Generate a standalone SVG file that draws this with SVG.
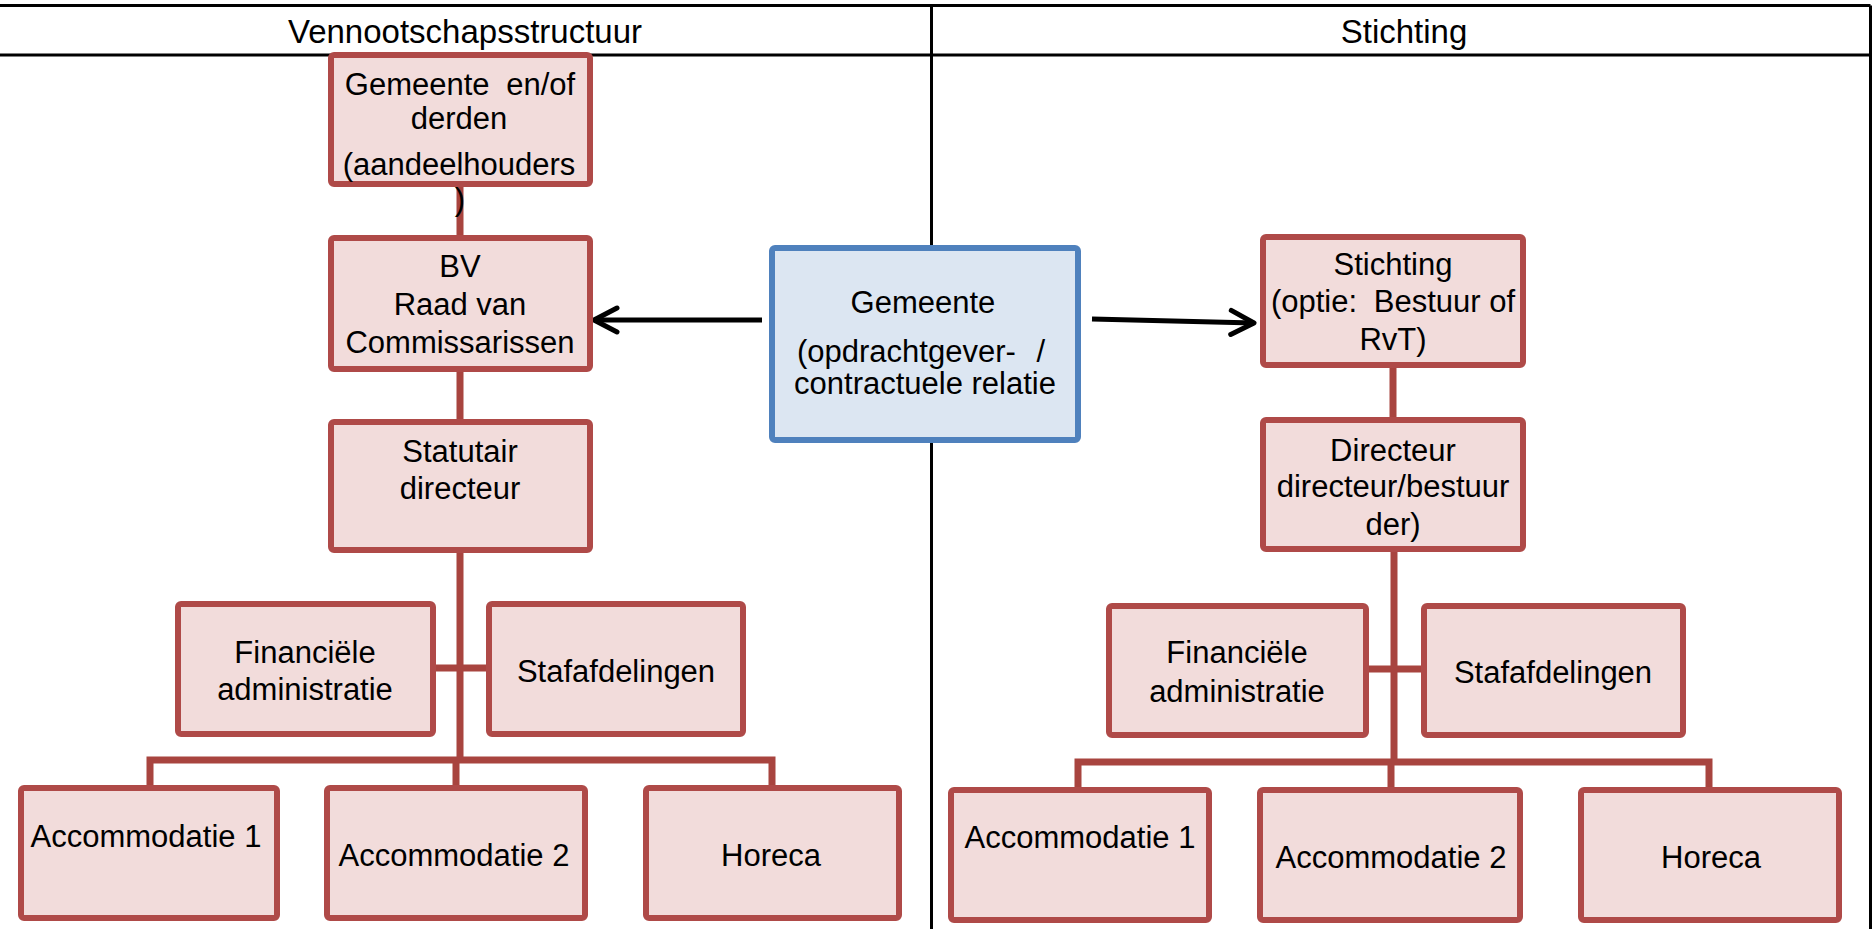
<svg xmlns="http://www.w3.org/2000/svg" width="1876" height="929" viewBox="0 0 1876 929">
<defs>
<style>
.tbl{stroke:#000;stroke-width:3;fill:none}
.box{fill:#F2DCDB;stroke:#AF4A48;stroke-width:6}
.blue{fill:#DCE6F2;stroke:#4F81BD;stroke-width:6}
.con{stroke:#A8443F;stroke-width:7;fill:none}
.arr{stroke:#000;stroke-width:5;fill:none}
.t{font-family:"Liberation Sans",Arial,sans-serif;font-size:31px;fill:#000;text-anchor:middle}
.h{font-family:"Liberation Sans",Arial,sans-serif;font-size:33px;fill:#000;text-anchor:middle}
</style>
<marker id="open" markerUnits="userSpaceOnUse" markerWidth="34" markerHeight="34" viewBox="0 0 34 34" refX="28" refY="17" orient="auto">
<path d="M5,5 L28,17 L5,29" stroke="#000" stroke-width="5" fill="none" stroke-linecap="round" stroke-linejoin="round"/>
</marker>
</defs>
<rect width="1876" height="929" fill="#fff"/>
<g id="table">
<path class="tbl" d="M0,5.5 H1870.5 M0,55 H1870.5 M931.5,5.5 V929 M1870.5,5.5 V929"/>
<text class="h" x="465" y="43">Vennootschapsstructuur</text>
<text class="h" x="1404" y="43">Stichting</text>
</g>
<g id="connectors">
<path class="con" d="M460,187 V235 M460,372 V419 M460,553 V760 M436,668 H486 M150,785 V760 H772 V785 M456,760 V785"/>
<path class="con" d="M1393,368 V417 M1394,552 V762 M1369,669 H1421 M1078,787 V762 H1709 V787 M1391,762 V787"/>
<path class="arr" d="M762,320 L594,320" marker-end="url(#open)"/>
<path class="arr" d="M1092,319 L1254,323" marker-end="url(#open)"/>
</g>
<g id="n-aandeelhouders">
<rect class="box" x="331" y="55" width="259" height="129" rx="3"/>
<text class="t" x="460" y="95" word-spacing="8">Gemeente en/of</text>
<text class="t" x="459" y="129">derden</text>
<text class="t" x="459" y="175">(aandeelhouders</text>
<text class="t" x="460" y="210">)</text>
</g>
<g id="n-bv">
<rect class="box" x="331" y="238" width="259" height="131" rx="3"/>
<text class="t" x="460" y="277">BV</text>
<text class="t" x="460" y="315">Raad van</text>
<text class="t" x="460" y="353">Commissarissen</text>
</g>
<g id="n-statutair">
<rect class="box" x="331" y="422" width="259" height="128" rx="3"/>
<text class="t" x="460" y="462">Statutair</text>
<text class="t" x="460" y="499">directeur</text>
</g>
<g id="n-fin-l">
<rect class="box" x="178" y="604" width="255" height="130" rx="3"/>
<text class="t" x="305" y="663">Financiële</text>
<text class="t" x="305" y="700">administratie</text>
</g>
<g id="n-staf-l">
<rect class="box" x="489" y="604" width="254" height="130" rx="3"/>
<text class="t" x="616" y="682">Stafafdelingen</text>
</g>
<g id="n-acc1-l">
<rect class="box" x="21" y="788" width="256" height="130" rx="3"/>
<text class="t" x="146" y="847">Accommodatie 1</text>
</g>
<g id="n-acc2-l">
<rect class="box" x="327" y="788" width="258" height="130" rx="3"/>
<text class="t" x="454" y="866">Accommodatie 2</text>
</g>
<g id="n-horeca-l">
<rect class="box" x="646" y="788" width="253" height="130" rx="3"/>
<text class="t" x="771" y="866">Horeca</text>
</g>
<g id="n-gemeente">
<rect class="blue" x="772" y="248" width="306" height="192" rx="3"/>
<text class="t" x="923" y="313">Gemeente</text>
<text class="t" x="921" y="362" word-spacing="12">(opdrachtgever- /</text>
<text class="t" x="925" y="394">contractuele relatie</text>
</g>
<g id="n-stichting">
<rect class="box" x="1263" y="237" width="260" height="128" rx="3"/>
<text class="t" x="1393" y="275">Stichting</text>
<text class="t" x="1393" y="312">(optie: <tspan dx="8">Bestuur of</tspan></text>
<text class="t" x="1393" y="350">RvT)</text>
</g>
<g id="n-directeur">
<rect class="box" x="1263" y="420" width="260" height="129" rx="3"/>
<text class="t" x="1393" y="461">Directeur</text>
<text class="t" x="1393" y="497">directeur/bestuur</text>
<text class="t" x="1393" y="535">der)</text>
</g>
<g id="n-fin-r">
<rect class="box" x="1109" y="606" width="257" height="129" rx="3"/>
<text class="t" x="1237" y="663">Financiële</text>
<text class="t" x="1237" y="702">administratie</text>
</g>
<g id="n-staf-r">
<rect class="box" x="1424" y="606" width="259" height="129" rx="3"/>
<text class="t" x="1553" y="683">Stafafdelingen</text>
</g>
<g id="n-acc1-r">
<rect class="box" x="951" y="790" width="258" height="130" rx="3"/>
<text class="t" x="1080" y="848">Accommodatie 1</text>
</g>
<g id="n-acc2-r">
<rect class="box" x="1260" y="790" width="260" height="130" rx="3"/>
<text class="t" x="1391" y="868">Accommodatie 2</text>
</g>
<g id="n-horeca-r">
<rect class="box" x="1581" y="790" width="258" height="130" rx="3"/>
<text class="t" x="1711" y="868">Horeca</text>
</g>
</svg>
